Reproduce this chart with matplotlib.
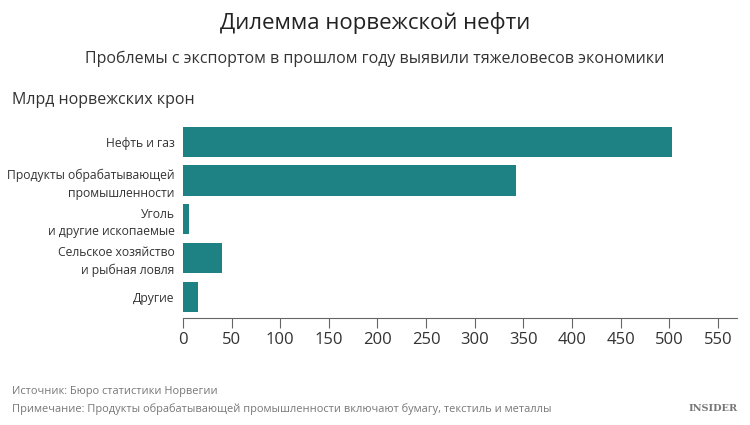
import matplotlib
matplotlib.use("Agg")
import matplotlib.pyplot as plt

categories = ["Нефть и газ", "Продукты обрабатывающей\nпромышленности", "Уголь\nи другие ископаемые",
              "Сельское хозяйство\nи рыбная ловля", "Другие"]
values = [503, 342, 6, 40, 15]
ticks = list(range(0, 551, 50))

plt.rcParams["font.family"] = ["Open Sans", "DejaVu Sans"]

fig = plt.figure(figsize=(7.5, 4.25), dpi=100)
ax = fig.add_axes([0.244, 0.252, 0.739, 0.461])

ax.barh(range(len(values)), values, height=0.78, color="#1E8285")
ax.set_ylim(4.54, -0.51)
ax.set_xlim(0, 570)
ax.set_yticks(range(len(values)))
ax.set_yticklabels(categories, fontsize=8.7, color="#333333", linespacing=1.45)
ax.set_xticks(ticks)
ax.tick_params(axis="y", length=0, pad=6)
ax.tick_params(axis="x", length=7, color="#666666", labelsize=12, labelcolor="#333333", pad=3)
for s in ["top", "right", "left"]:
    ax.spines[s].set_visible(False)
ax.spines["bottom"].set_color("#666666")

fig.text(0.5, 0.945, "Дилемма норвежской нефти", ha="center", va="center", fontsize=16, color="#222222")
fig.text(0.5, 0.861, "Проблемы с экспортом в прошлом году выявили тяжеловесов экономики",
         ha="center", va="center", fontsize=11.5, color="#333333")
fig.text(0.016, 0.765, "Млрд норвежских крон", ha="left", va="center", fontsize=11.5, color="#333333")
fig.text(0.016, 0.078, "Источник: Бюро статистики Норвегии", ha="left", va="center", fontsize=7.9, color="#777777")
fig.text(0.016, 0.038, "Примечание: Продукты обрабатывающей промышленности включают бумагу, текстиль и металлы",
         ha="left", va="center", fontsize=7.9, color="#777777")
fig.text(0.983, 0.038, "INSIDER", ha="right", va="center", fontsize=7, color="#777777",
         family="DejaVu Serif", fontweight="bold")

fig.savefig("out.png", dpi=100)
